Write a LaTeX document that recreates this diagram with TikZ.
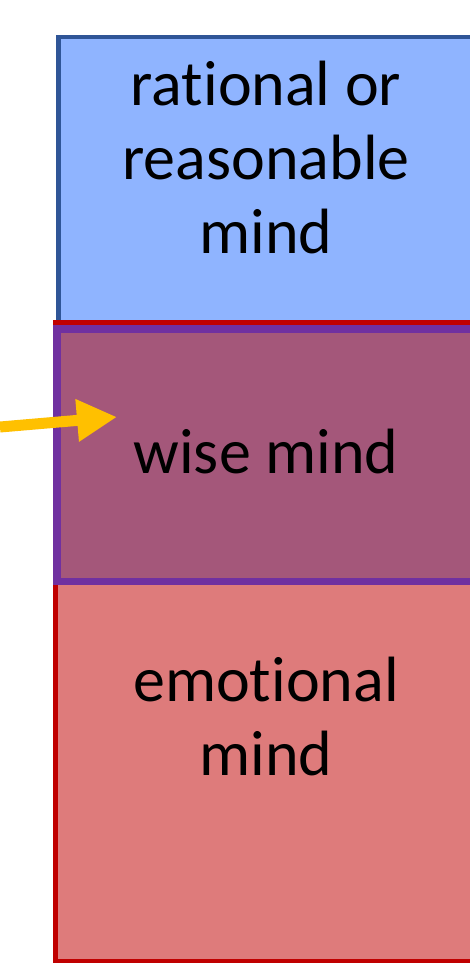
\documentclass[tikz,border=0pt]{standalone}
\usepackage{fontspec}
\setmainfont[Ligatures=NoCommon]{Carlito}
\usetikzlibrary{arrows.meta, positioning}

\definecolor{rationalfill}{RGB}{143,180,255}
\definecolor{rationalline}{RGB}{47,85,151}
\definecolor{emotionfill}{RGB}{222,123,123}
\definecolor{emotionline}{RGB}{192,0,0}
\definecolor{wisefill}{RGB}{164,87,122}
\definecolor{wiseline}{RGB}{112,48,160}
\definecolor{arrowyellow}{RGB}{255,192,0}

\begin{document}
\begin{tikzpicture}[x=1pt, y=-1pt,
    mindtext/.style={align=center, inner sep=0pt, font=\fontsize{64}{74}\selectfont}]

    % =================================================================
    % 1. KHUNG VÀ NỀN
    % =================================================================
    \useasboundingbox (0,0) rectangle (470,964);
    \clip (0,0) rectangle (470,964);
    \fill[white] (0,0) rectangle (470,964);

    % =================================================================
    % 2. BA VÙNG CỦA TÂM TRÍ
    % =================================================================
    % Vùng lý trí (trên cùng)
    \draw[line width=4.5pt, draw=rationalline, fill=rationalfill] (58.5,37) rectangle (490,330);

    % Vùng cảm xúc (bên dưới)
    \draw[line width=4.5pt, draw=emotionline, fill=emotionfill] (55.5,322.5) rectangle (490,961);

    % Vùng giao nhau ở giữa
    \draw[line width=7.5pt, draw=wiseline, fill=wisefill] (57,329) rectangle (490,581.5);

    % =================================================================
    % 3. CHỮ TRONG TỪNG VÙNG (neo ở đường chân dòng cuối)
    % =================================================================
    \node[mindtext, anchor=base] (rational) at (266,253) {rational or\\reasonable\\mind};
    \node[mindtext, anchor=base] (wise) at (266,473) {wise mind};
    \node[mindtext, anchor=base] (emotional) at (266,775) {emotional\\mind};

    % =================================================================
    % 4. MŨI TÊN CHỈ VÀO VÙNG GIỮA
    % =================================================================
    \coordinate (arrowtail) at (0,427);
    \coordinate (arrowtip) at (117,417);
    \draw[line width=11pt, draw=arrowyellow, -{Triangle[length=40pt, width=40pt]}] (arrowtail) -- (arrowtip);

\end{tikzpicture}
\end{document}
